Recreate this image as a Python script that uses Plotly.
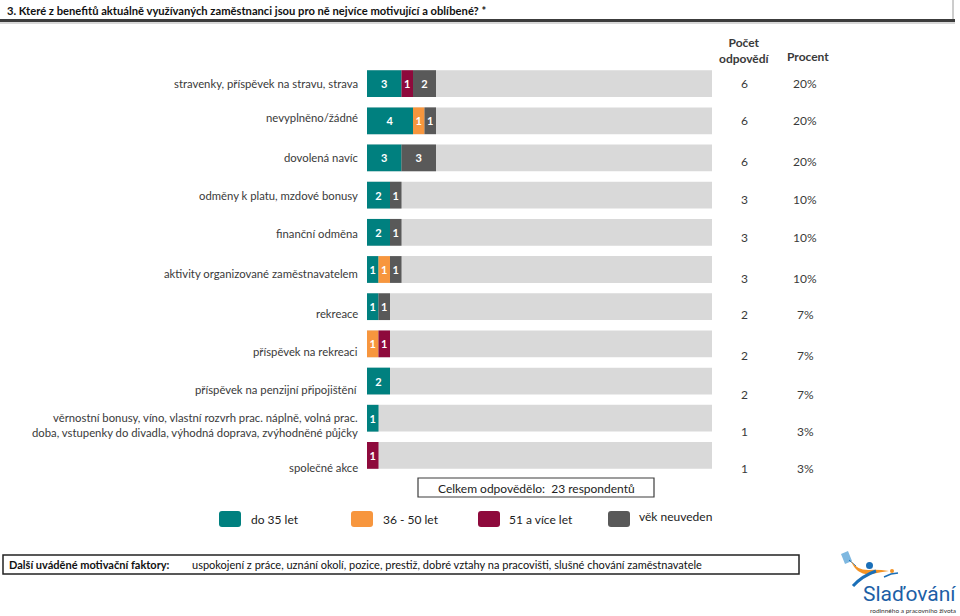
import plotly.graph_objects as go
import numpy as np

# ---------------- data ----------------
categories = [
    "stravenky, příspěvek na stravu, strava",
    "nevyplněno/žádné",
    "dovolená navíc",
    "odměny k platu, mzdové bonusy",
    "finanční odměna",
    "aktivity organizované zaměstnavatelem",
    "rekreace",
    "příspěvek na rekreaci",
    "příspěvek na penzijní připojištění",
    "věrnostní bonusy, víno, vlastní rozvrh prac. náplně, volná prac.<br>doba, vstupenky do divadla, výhodná doprava, zvýhodněné půjčky",
    "společné akce",
]
series_names = ["do 35 let", "36 - 50 let", "51 a více let", "věk neuveden"]
do35 = [3, 4, 3, 2, 2, 1, 1, 0, 2, 1, 0]
od36do50 = [0, 1, 0, 0, 0, 1, 0, 1, 0, 0, 0]
nad51 = [1, 0, 0, 0, 0, 0, 0, 1, 0, 0, 1]
neuveden = [2, 1, 3, 1, 1, 1, 1, 0, 0, 0, 0]
counts = [6, 6, 6, 3, 3, 3, 2, 2, 2, 1, 1]
percents = ["20%", "20%", "20%", "10%", "10%", "10%", "7%", "7%", "7%", "3%", "3%"]
scale_max = 30
total_respondents = 23

# ---------------- style ----------------
colors = ["#00807f", "#f7963e", "#8e0a3c", "#595959"]
bg_color = "#d9d9d9"
text_color = "#3a3a3a"
FONT = "Lato"
label_shift = [0, -3, 0, 0, 1, 4, 7, 8, 8, 7, 12]
value_shift = [0, 0, 4, 4, 5, 9, 8, 12, 13, 13, 13]

W, H = 960, 616
L, R, T, B = 367, 248, 65, 142
PW, PH = W - L - R, H - T - B


def px(x):
    return (x - L) / PW


def py(y):
    return 1 - (y - T) / PH


fig = go.Figure()
ypos = list(range(len(categories)))

fig.add_trace(go.Bar(
    y=ypos, x=[scale_max] * len(categories), base=0, orientation="h",
    marker=dict(color=bg_color, line=dict(width=0)), width=0.72,
    hoverinfo="skip", showlegend=False))

series = [do35, od36do50, nad51, neuveden]
base = np.zeros(len(categories))
for name, vals, col in zip(series_names, series, colors):
    v = np.array(vals, dtype=float)
    fig.add_trace(go.Bar(
        y=ypos, x=v, base=base.copy(), orientation="h", name=name,
        marker=dict(color=col, line=dict(width=0)), width=0.72,
        text=[str(int(a)) if a > 0 else "" for a in v],
        textposition="inside", insidetextanchor="middle", textangle=0,
        insidetextfont=dict(family=FONT, size=11, color="white", weight="bold"),
        showlegend=False))
    base = base + v

annotations = []
shapes = []

# category labels and value columns
for i, cat in enumerate(categories):
    annotations.append(dict(
        x=px(360), xref="paper", y=i, yref="y", text=cat,
        xanchor="right", yanchor="middle", align="right", showarrow=False,
        yshift=-label_shift[i],
        font=dict(family=FONT, size=11.3, color=text_color)))
    annotations.append(dict(
        x=px(744), xref="paper", y=i, yref="y", text=str(counts[i]),
        xanchor="center", yanchor="middle", showarrow=False,
        yshift=-value_shift[i],
        font=dict(family=FONT, size=12, color=text_color)))
    annotations.append(dict(
        x=px(805), xref="paper", y=i, yref="y", text=percents[i],
        xanchor="center", yanchor="middle", showarrow=False,
        yshift=-value_shift[i],
        font=dict(family=FONT, size=12, color=text_color)))

# column headers
annotations.append(dict(x=px(744), xref="paper", y=py(51), yref="paper",
                        text="<b>Počet</b><br><b>odpovědí</b>", showarrow=False,
                        xanchor="center", yanchor="middle",
                        font=dict(family=FONT, size=12, color=text_color)))
annotations.append(dict(x=px(808), xref="paper", y=py(57), yref="paper",
                        text="<b>Procent</b>", showarrow=False,
                        xanchor="center", yanchor="middle",
                        font=dict(family=FONT, size=12, color=text_color)))

# title
annotations.append(dict(x=px(5), xref="paper", y=py(10), yref="paper",
                        text="<b>3. Které z benefitů aktuálně využívaných zaměstnanci jsou pro ně nejvíce motivující a oblíbené? *</b>",
                        showarrow=False, xanchor="left", yanchor="middle",
                        font=dict(family=FONT, size=11.2, color="#111111")))
shapes.append(dict(type="line", xref="paper", yref="paper", x0=px(0), x1=px(955),
                   y0=py(20.5), y1=py(20.5), line=dict(color="#3c3c3c", width=3)))
shapes.append(dict(type="line", xref="paper", yref="paper", x0=px(0), x1=px(955),
                   y0=py(23), y1=py(23), line=dict(color="#b0b0b0", width=1)))
shapes.append(dict(type="line", xref="paper", yref="paper", x0=px(953), x1=px(953),
                   y0=py(0), y1=py(19), line=dict(color="#9a9a9a", width=1)))

# total respondents box
shapes.append(dict(type="rect", xref="paper", yref="paper", x0=px(418), x1=px(654),
                   y0=py(478), y1=py(497), line=dict(color="#3c3c3c", width=1.2),
                   fillcolor="white"))
annotations.append(dict(x=px(536), xref="paper", y=py(488), yref="paper",
                        text=f"Celkem odpovědělo:  {total_respondents} respondentů",
                        showarrow=False, xanchor="center", yanchor="middle",
                        font=dict(family=FONT, size=12, color="#222222")))

# custom legend
leg_x = [219, 351, 478, 608]
leg_tx = [249, 381, 507, 637]
leg_ty = [519, 519, 519, 516]


def rrect(x0, y0, x1, y1, r):
    X = lambda v: px(v)
    Y = lambda v: py(v)
    return (f"M {X(x0+r)},{Y(y0)} L {X(x1-r)},{Y(y0)} Q {X(x1)},{Y(y0)} {X(x1)},{Y(y0+r)} "
            f"L {X(x1)},{Y(y1-r)} Q {X(x1)},{Y(y1)} {X(x1-r)},{Y(y1)} "
            f"L {X(x0+r)},{Y(y1)} Q {X(x0)},{Y(y1)} {X(x0)},{Y(y1-r)} "
            f"L {X(x0)},{Y(y0+r)} Q {X(x0)},{Y(y0)} {X(x0+r)},{Y(y0)} Z")


for name, col, lx, tx, ty in zip(series_names, colors, leg_x, leg_tx, leg_ty):
    shapes.append(dict(type="path", xref="paper", yref="paper",
                       path=rrect(lx, 511, lx + 22, 527, 3),
                       fillcolor=col, line=dict(width=0)))
    annotations.append(dict(x=px(tx), xref="paper", y=py(ty), yref="paper",
                            text=name, showarrow=False, xanchor="left", yanchor="middle",
                            font=dict(family=FONT, size=12, color="#222222")))

# bottom box
shapes.append(dict(type="rect", xref="paper", yref="paper", x0=px(3), x1=px(799),
                   y0=py(555), y1=py(574), line=dict(color="#222222", width=1.5),
                   fillcolor="white"))
annotations.append(dict(x=px(7), xref="paper", y=py(564.5), yref="paper",
                        text="<b>Další uváděné motivační faktory:</b>", showarrow=False,
                        xanchor="left", yanchor="middle",
                        font=dict(family=FONT, size=11, color="#111111")))
annotations.append(dict(x=px(190), xref="paper", y=py(564.5), yref="paper",
                        text="uspokojení z práce, uznání okolí, pozice, prestiž, dobré vztahy na pracovišti, slušné chování zaměstnavatele",
                        showarrow=False, xanchor="left", yanchor="middle",
                        font=dict(family=FONT, size=11, color="#111111")))


# logo (approximate)
def P(points):
    s = "M " + " L ".join(f"{px(a)},{py(b)}" for a, b in points) + " Z"
    return s


shapes.append(dict(type="path", xref="paper", yref="paper",
                   path=P([(841, 554), (848, 551), (852, 561), (845, 564)]),
                   fillcolor="#7fb8e0", line=dict(width=0)))
shapes.append(dict(type="line", xref="paper", yref="paper",
                   x0=px(849), y0=py(560), x1=px(856), y1=py(566),
                   line=dict(color="#1a6fb8", width=1)))
shapes.append(dict(type="path", xref="paper", yref="paper",
                   path=(f"M {px(851)},{py(561)} Q {px(857)},{py(576)} {px(872)},{py(574)} "
                         f"Q {px(881)},{py(572)} {px(889)},{py(571)} "
                         f"Q {px(877)},{py(569)} {px(868)},{py(570)} "
                         f"Q {px(857)},{py(570)} {px(851)},{py(561)} Z"),
                   fillcolor="#f39325", line=dict(width=0)))
shapes.append(dict(type="circle", xref="paper", yref="paper",
                   x0=px(866), x1=px(873), y0=py(562), y1=py(569),
                   fillcolor="#1a6fb8", line=dict(width=0)))
shapes.append(dict(type="path", xref="paper", yref="paper",
                   path=f"M {px(876)},{py(571)} Q {px(862)},{py(576)} {px(853)},{py(586)}",
                   line=dict(color="#1a6fb8", width=3)))
shapes.append(dict(type="circle", xref="paper", yref="paper",
                   x0=px(890), x1=px(894), y0=py(569), y1=py(573),
                   fillcolor="#f39325", line=dict(width=0)))
shapes.append(dict(type="path", xref="paper", yref="paper",
                   path=f"M {px(884)},{py(577)} L {px(891)},{py(574)} L {px(898)},{py(573)}",
                   line=dict(color="#1a6fb8", width=1.5)))
annotations.append(dict(x=px(958), xref="paper", y=py(594), yref="paper", text="Slaďování",
                        showarrow=False, xanchor="right", yanchor="middle",
                        font=dict(family="Liberation Sans Narrow, Roboto", size=21, color="#1d5fa6")))
annotations.append(dict(x=px(958), xref="paper", y=py(610), yref="paper",
                        text="rodinného a pracovního života",
                        showarrow=False, xanchor="right", yanchor="middle",
                        font=dict(family=FONT, size=6.5, color="#333333")))

fig.update_layout(
    width=W, height=H,
    margin=dict(l=L, r=R, t=T, b=B, pad=0),
    paper_bgcolor="white", plot_bgcolor="white",
    barmode="overlay",
    uniformtext=dict(minsize=11, mode="show"),
    xaxis=dict(range=[0, scale_max], visible=False, fixedrange=True),
    yaxis=dict(range=[len(categories) - 0.5, -0.5], visible=False, fixedrange=True),
    annotations=annotations, shapes=shapes,
    showlegend=False,
)

fig.write_html("out.html", config={"displayModeBar": False},
               post_script="document.body.style.margin='0';document.body.style.padding='0';")
